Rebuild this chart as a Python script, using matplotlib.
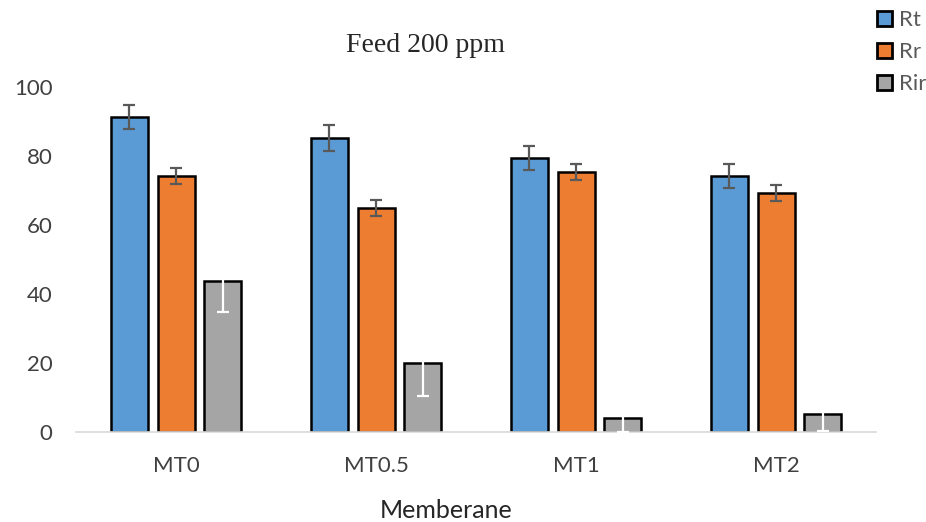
import numpy as np
import matplotlib.pyplot as plt
from matplotlib.patches import Patch

# dati
membrane = ['MT0', 'MT0.5', 'MT1', 'MT2']
Rt = [91.3, 85.2, 79.4, 74.2]
Rr = [74.2, 65.0, 75.4, 69.3]
Rir = [43.8, 20.0, 4.0, 5.2]
err_Rt = [3.6, 3.7, 3.6, 3.6]
err_Rr = [2.3, 2.3, 2.3, 2.3]
err_Rir = [9.0, 9.6, 4.0, 5.0]

plt.rcParams['font.family'] = ['Lato', 'DejaVu Sans']

fig = plt.figure(figsize=(9.26, 5.22), dpi=100)
ax = fig.add_axes([76/926, 1-432/522, 800/926, 345/522])

x = np.arange(len(membrane))
w = 0.185
off = 0.233
col = ['#5B9BD5', '#ED7D31', '#A5A5A5']
serie = [Rt, Rr, Rir]
errori = [err_Rt, err_Rr, err_Rir]
ecol = ['#595959', '#595959', 'white']

for i in range(3):
    xs = x + (i-1)*off
    ax.bar(xs, serie[i], width=w, color=col[i], edgecolor='black', linewidth=1.8, zorder=2)
    ax.errorbar(xs, serie[i], yerr=errori[i], fmt='none', ecolor=ecol[i],
                elinewidth=1.6, capsize=4.5, capthick=1.6, zorder=3)

ax.set_xlim(-0.5, 3.5)
ax.set_ylim(0, 100)
ax.set_yticks([0, 20, 40, 60, 80, 100])
ax.set_xticks(x)
ax.set_xticklabels(membrane)
ax.tick_params(axis='both', length=0, labelsize=16, colors='#404040')
ax.tick_params(axis='y', pad=17)
ax.tick_params(axis='x', pad=17)
for s in ['top', 'right', 'left']:
    ax.spines[s].set_visible(False)
ax.spines['bottom'].set_color('#D9D9D9')
ax.spines['bottom'].set_linewidth(1.2)

fig.text(425/926, 1-46/522, 'Feed 200 ppm', ha='center', va='center',
         fontsize=20, family='Liberation Serif', color='#262626')
fig.text(446/926, 1-510/522, 'Memberane', ha='center', va='center',
         fontsize=18, color='#262626')

handles = [Patch(facecolor=c, edgecolor='black', linewidth=2) for c in col]
fig.legend(handles, ['Rt', 'Rr', 'Rir'], loc='upper left',
           bbox_to_anchor=(877/926, 1-10/522), frameon=False, fontsize=16,
           labelcolor='#595959', handlelength=0.68, handleheight=0.68,
           handletextpad=0.3, labelspacing=0.55, borderpad=0, borderaxespad=0)

fig.savefig('out.png', dpi=100)
